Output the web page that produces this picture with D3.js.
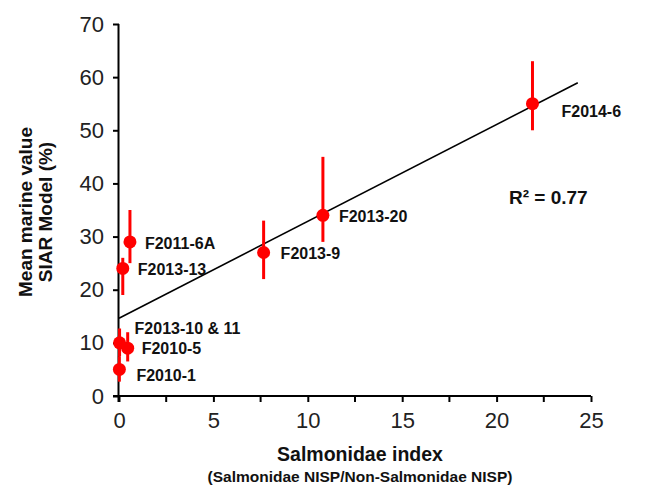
<!DOCTYPE html>
<html>
<head>
<meta charset="utf-8">
<script src="https://cdn.jsdelivr.net/npm/d3@7/dist/d3.min.js"></script>
<style>
  html, body { margin: 0; padding: 0; background: #fff; }
  svg { display: block; font-family: "Liberation Sans", Arial, sans-serif; }
</style>
</head>
<body>
<svg id="chart" width="664" height="487"></svg>
<script>
// ---- data ----
const sites    = ["F2010-1", "F2013-10 & 11", "F2010-5", "F2013-13", "F2011-6A", "F2013-9", "F2013-20", "F2014-6"];
const xIndex   = [0.02, 0.03, 0.46, 0.2, 0.58, 7.66, 10.8, 21.9];
const yMarine  = [5, 10, 9, 24, 29, 27, 34, 55];
const yLow     = [2.7, 7.5, 6.5, 19, 25, 22, 29, 50];
const yHigh    = [7.5, 12.7, 12, 26, 35, 33, 45, 63];
const xTicks   = [0, 5, 10, 15, 20, 25];
const xMinorTicks = [2.5, 7.5, 12.5, 17.5, 22.5];
const yTicks   = [0, 10, 20, 30, 40, 50, 60, 70];
const trendRange = [0, 24.3];
const r2Label  = "R² = 0.77";

// ---- layout (label offsets in px) ----
const labelDx = [17, 15, 14, 15, 15, 17, 16, 29];
const labelDy = [12, -9, 6, 7, 7, 6, 7, 13];

const svg = d3.select("#chart");
const x = d3.scaleLinear().domain([0, 25]).range([119, 591]);
const y = d3.scaleLinear().domain([0, 70]).range([396, 24]);
const FONT = "Liberation Sans, Arial, sans-serif";

// axes
const yAxis = d3.axisLeft(y).tickValues(yTicks).tickSize(6).tickPadding(9).tickFormat(d3.format("d"));
const gy = svg.append("g").attr("transform", `translate(${x(0)},0)`).call(yAxis);
gy.select(".domain").attr("d", `M-0.5,${y(70)}V${y(0)+6}`).attr("stroke", "#000").attr("stroke-width", 2);
gy.selectAll(".tick line").attr("stroke", "#000").attr("stroke-width", 2);
gy.selectAll(".tick text").attr("font-size", 22).attr("fill", "#222").attr("font-family", FONT);

const xAxis = d3.axisBottom(x).tickValues(xTicks).tickSize(6).tickPadding(10).tickFormat(d3.format("d"));
const gx = svg.append("g").attr("transform", `translate(0,${y(0)})`).call(xAxis);
gx.select(".domain").attr("d", `M${x(0)-6},0H${x(25)}`).attr("stroke", "#000").attr("stroke-width", 2);
gx.selectAll(".tick line").attr("stroke", "#000").attr("stroke-width", 2);
gx.selectAll(".tick text").attr("font-size", 22).attr("fill", "#222").attr("font-family", FONT);
gx.selectAll(".minor").data(xMinorTicks).enter().append("line")
  .attr("x1", d => x(d)).attr("x2", d => x(d)).attr("y1", 0).attr("y2", 6)
  .attr("stroke", "#000").attr("stroke-width", 2);

// regression line computed from data
const n = xIndex.length;
const mx = d3.mean(xIndex), my = d3.mean(yMarine);
let sxy = 0, sxx = 0;
for (let i = 0; i < n; i++) { sxy += (xIndex[i]-mx)*(yMarine[i]-my); sxx += (xIndex[i]-mx)**2; }
const slope = sxy / sxx, intercept = my - slope * mx;
svg.append("line")
  .attr("x1", x(trendRange[0])).attr("y1", y(intercept + slope*trendRange[0]))
  .attr("x2", x(trendRange[1])).attr("y2", y(intercept + slope*trendRange[1]))
  .attr("stroke", "#000").attr("stroke-width", 1.6);

// error bars
const pts = sites.map((s, i) => ({s, x: xIndex[i], y: yMarine[i], lo: yLow[i], hi: yHigh[i], dx: labelDx[i], dy: labelDy[i]}));
svg.append("g").selectAll("line").data(pts).enter().append("line")
  .attr("x1", d => x(d.x)).attr("x2", d => x(d.x))
  .attr("y1", d => y(d.lo)).attr("y2", d => y(d.hi))
  .attr("stroke", "#ff0000").attr("stroke-width", 3);

// points
svg.append("g").selectAll("circle").data(pts).enter().append("circle")
  .attr("cx", d => x(d.x)).attr("cy", d => y(d.y)).attr("r", 6.5)
  .attr("fill", "#ff0000");

// labels
svg.append("g").selectAll("text").data(pts).enter().append("text")
  .attr("x", d => x(d.x) + d.dx).attr("y", d => y(d.y) + d.dy)
  .attr("font-size", 16).attr("font-weight", "bold").attr("fill", "#111")
  .text(d => d.s);

// R2
svg.append("text").attr("x", 509).attr("y", 204)
  .attr("font-size", 19).attr("font-weight", "bold").attr("fill", "#111")
  .text(r2Label);

// axis titles
svg.append("text").attr("x", 360).attr("y", 461).attr("text-anchor", "middle")
  .attr("font-size", 19.5).attr("font-weight", "bold").attr("fill", "#111")
  .text("Salmonidae index");
svg.append("text").attr("x", 360).attr("y", 482).attr("text-anchor", "middle")
  .attr("font-size", 15.5).attr("font-weight", "bold").attr("fill", "#111")
  .text("(Salmonidae NISP/Non-Salmonidae NISP)");
const yt = svg.append("text").attr("transform", "translate(32,212) rotate(-90)")
  .attr("text-anchor", "middle").attr("font-size", 19).attr("font-weight", "bold").attr("fill", "#111");
yt.append("tspan").attr("x", 0).attr("dy", 0).text("Mean marine value");
yt.append("tspan").attr("x", 0).attr("dy", 20).text("SIAR Model (%)");
</script>
</body>
</html>
